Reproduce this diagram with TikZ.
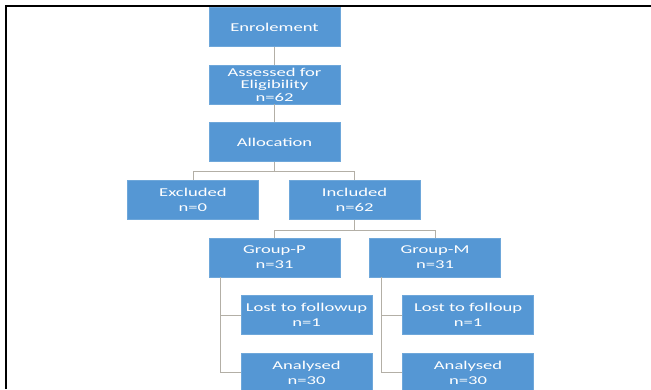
\documentclass[tikz,border=0pt]{standalone}
\usepackage{fontspec}
\usepackage{tikz}
\usetikzlibrary{positioning}
\newfontfamily\boxfont{Carlito}[FakeStretch=1.55]
\definecolor{boxblue}{HTML}{5597D4}
\definecolor{linkgray}{HTML}{B3AFA6}
\tikzset{
  flowbox/.style = {fill = boxblue, draw = boxblue!85!white, line width = 0.6pt,
    minimum width = 131pt, minimum height = 39pt, inner sep = 1pt,
    text = white, align = center,
    font = \boxfont\fontsize{12}{15}\selectfont},
  link/.style = {draw = linkgray, line width = 0.8pt}
}
\begin{document}
\begin{tikzpicture}[x = 1pt, y = 1pt]
    \useasboundingbox (0,0) rectangle (651,-389);
    \draw[line width = 2pt] (6,-389) -- (6,-6) -- (651,-6);

    \node[flowbox] (enrol) at (274.5,-27) {Enrolement};
    \node[flowbox, below = 18pt of enrol, font = \boxfont\fontsize{12}{12.5}\selectfont] (assess)
      {Assessed for\\Eligibility\\n=62};
    \node[flowbox, below = 18pt of assess] (alloc) {Allocation};

    \node[flowbox, below = 18pt of alloc, xshift = 80pt] (incl) {Included\\n=62};
    \node[flowbox, left = 30pt of incl] (excl) {Excluded\\n=0};

    \node[flowbox, below = 18pt of incl, xshift = -80pt] (grpP) {Group-P\\n=31};
    \node[flowbox, right = 29pt of grpP] (grpM) {Group-M\\n=31};

    \node[flowbox, below = 18pt of grpP, xshift = 32pt] (lostP) {Lost to followup\\n=1};
    \node[flowbox, below = 18pt of lostP] (anaP) {Analysed\\n=30};
    \node[flowbox, below = 18pt of grpM, xshift = 33pt] (lostM) {Lost to folloup\\n=1};
    \node[flowbox, below = 18pt of lostM] (anaM) {Analysed\\n=30};

    \draw[link] (enrol) -- (assess);
    \draw[link] (assess) -- (alloc);
    \draw[link] (alloc.south) -- ++(0,-9) -| (excl.north);
    \draw[link] (alloc.south) -- ++(0,-9) -| (incl.north);
    \draw[link] (incl.south) -- ++(0,-11) -| (grpP.north);
    \draw[link] (incl.south) -- ++(0,-11) -| (grpM.north);

    \draw[link] ([xshift = 12pt]grpP.south west) |- (lostP.west);
    \draw[link] ([xshift = 12pt]grpP.south west) |- (anaP.west);
    \draw[link] ([xshift = 12pt]grpM.south west) |- (lostM.west);
    \draw[link] ([xshift = 12pt]grpM.south west) |- (anaM.west);
\end{tikzpicture}
\end{document}
